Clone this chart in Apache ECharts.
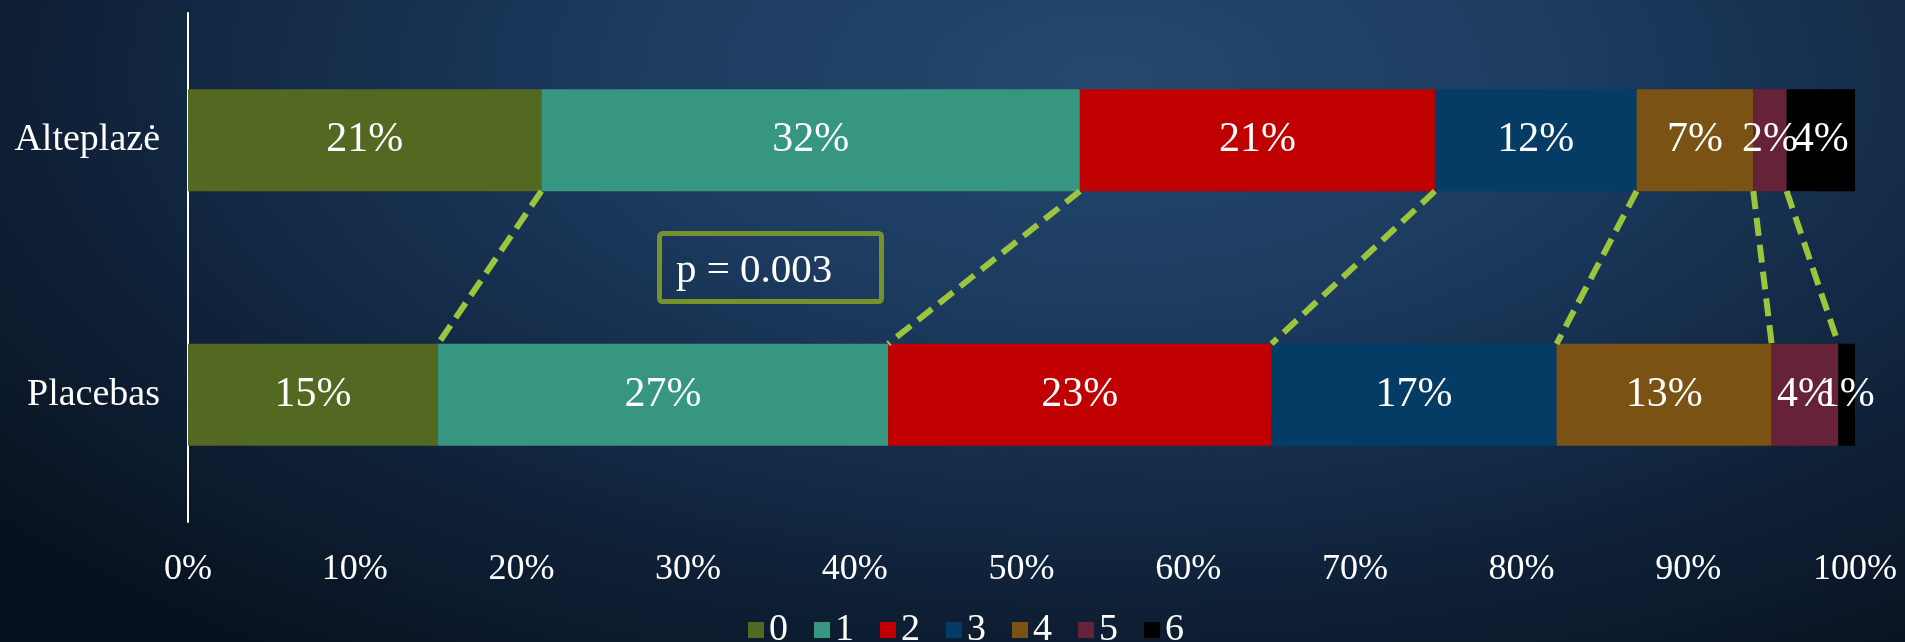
<!DOCTYPE html>
<html>
<head>
<meta charset="utf-8">
<script src="https://cdn.jsdelivr.net/npm/echarts@6/dist/echarts.min.js"></script>
<style>
  html, body { margin: 0; padding: 0; width: 1905px; height: 642px; overflow: hidden; }
  body {
    background: radial-gradient(ellipse 75% 110% at 58% 12%, #25496f 0%, #1b3a5e 35%, #10233b 70%, #08121f 100%);
  }
  #chart { width: 1905px; height: 642px; }
</style>
</head>
<body>
<div id="chart"></div>
<script>
const categories = ['Alteplazė', 'Placebas']
const seriesNames = ['0', '1', '2', '3', '4', '5', '6']
// percentage per score, [Alteplazė, Placebas]
const score0 = [21.2, 15.0]
const score1 = [32.3, 27.0]
const score2 = [21.3, 23.0]
const score3 = [12.1, 17.1]
const score4 = [7.0, 12.9]
const score5 = [2.0, 4.0]
const score6 = [4.1, 1.0]
const colors = ['#536821', '#379680', '#c00000', '#053c65', '#7a5213', '#662236', '#000000']
const xTicks = [0, 10, 20, 30, 40, 50, 60, 70, 80, 90, 100]
const pText = 'p = 0.003'

const values = [score0, score1, score2, score3, score4, score5, score6]
const serif = '"Liberation Serif", "DejaVu Serif", serif'

// cumulative boundaries between segments, for the connector lines
const boundaries = []
let cumA = 0, cumP = 0
for (let i = 0; i < values.length - 1; i++) {
  cumA += values[i][0]
  cumP += values[i][1]
  boundaries.push([cumA, cumP, 0])
}

const chart = echarts.init(document.getElementById('chart'))

const barSeries = values.map((v, i) => ({
  name: seriesNames[i],
  type: 'bar',
  stack: 'total',
  barWidth: '40%',
  data: v,
  itemStyle: { color: colors[i] },
  label: {
    show: true,
    position: 'inside',
    color: '#ffffff',
    fontFamily: serif,
    fontSize: 42,
    formatter: p => Math.round(p.value) + '%'
  },
  emphasis: { disabled: true }
}))

chart.setOption({
  backgroundColor: 'transparent',
  animation: false,
  grid: { left: 188, right: 50, top: 13, bottom: 120 },
  xAxis: {
    type: 'value', min: 0, max: 100, interval: 10,
    axisLine: { show: false },
    axisTick: { show: false },
    splitLine: { show: false },
    axisLabel: {
      color: '#ffffff', fontFamily: serif, fontSize: 36, margin: 30,
      formatter: v => xTicks.includes(v) ? v + '%' : ''
    }
  },
  yAxis: {
    type: 'category', data: categories, inverse: true,
    axisLine: { show: true, lineStyle: { color: '#ffffff', width: 2 } },
    axisTick: { show: false },
    axisLabel: { color: '#ffffff', fontFamily: serif, fontSize: 38, margin: 28 }
  },
  legend: {
    data: seriesNames,
    left: 743, top: 606,
    icon: 'rect', itemWidth: 16, itemHeight: 16, itemGap: 26,
    textStyle: { color: '#ffffff', fontFamily: serif, fontSize: 38 }
  },
  series: [
    ...barSeries,
    {
      type: 'custom',
      silent: true,
      z: 5,
      encode: { x: [0, 1], y: 2 },
      data: boundaries,
      renderItem: (params, api) => {
        const top = api.coord([api.value(0), 0])
        const bot = api.coord([api.value(1), 1])
        const half = api.size([0, 1])[1] * 0.2
        return {
          type: 'line',
          shape: { x1: top[0], y1: top[1] + half, x2: bot[0], y2: bot[1] - half },
          style: { stroke: '#9bc53d', lineWidth: 6, lineDash: [18, 9] }
        }
      }
    }
  ],
  graphic: [
    {
      type: 'rect', left: 657, top: 231,
      shape: { width: 222, height: 68, r: 3 },
      style: { fill: 'transparent', stroke: '#76922c', lineWidth: 5 }
    },
    {
      type: 'text', left: 676, top: 251,
      style: { text: pText, fill: '#ffffff', font: '41px ' + serif }
    }
  ]
})
</script>
</body>
</html>
